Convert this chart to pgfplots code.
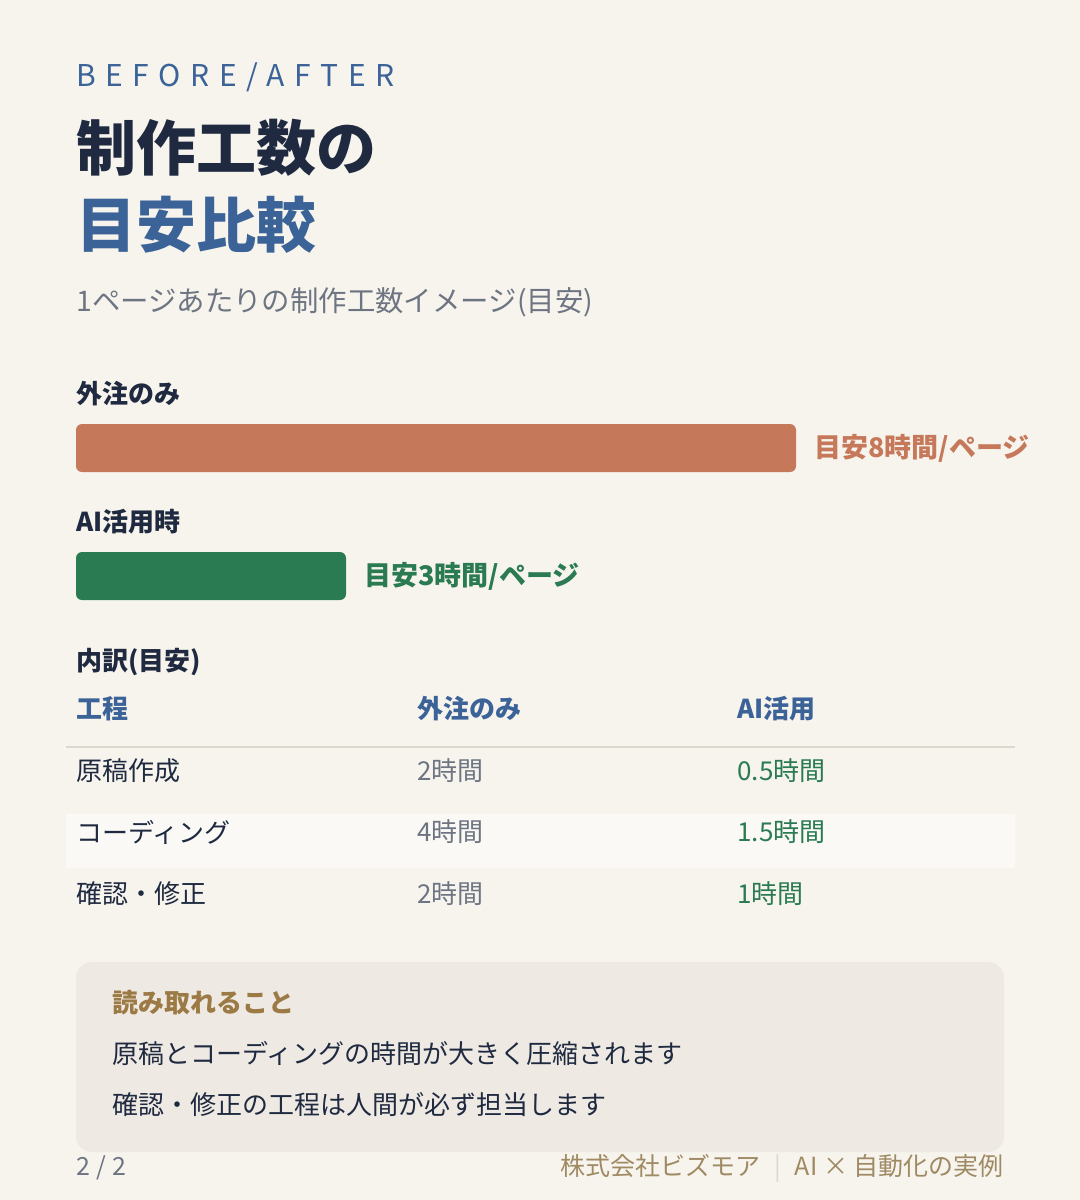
\documentclass[border=0pt]{standalone}
\usepackage{fontspec}
\usepackage{pgfplots}
\pgfplotsset{compat=1.18}
\setmainfont{Noto Sans CJK JP}
\definecolor{bg}{HTML}{F7F4EE}
\definecolor{navy}{HTML}{1F2A40}
\definecolor{blue}{HTML}{3B6398}
\definecolor{orangebar}{HTML}{C6785A}
\definecolor{greenbar}{HTML}{2A7A52}
\definecolor{graytxt}{HTML}{6E7582}
\definecolor{gold}{HTML}{9C7A45}
\definecolor{foot}{HTML}{A08A64}
\definecolor{boxfill}{HTML}{EEEAE3}
\definecolor{linecol}{HTML}{DDD8CE}
\definecolor{stripe}{HTML}{FAF9F5}
\begin{document}
\begin{tikzpicture}
\begin{scope}[x=0.5pt,y=-0.5pt]
\fill[bg] (0,0) rectangle (1080,1200);
% header
\node[anchor=west,inner sep=0pt,text=blue,font=\fontsize{15pt}{18pt}\selectfont\addfontfeature{LetterSpace=32}] at (76,77) {BEFORE/AFTER};
\node[anchor=west,inner sep=0pt,text=navy,font=\fontsize{30pt}{36pt}\selectfont\bfseries] at (76,148) {制作工数の};
\node[anchor=west,inner sep=0pt,text=blue,font=\fontsize{30pt}{36pt}\selectfont\bfseries] at (76,225) {目安比較};
\node[anchor=west,inner sep=0pt,text=graytxt,font=\fontsize{14.2pt}{17pt}\selectfont] at (76,302) {1ページあたりの制作工数イメージ(目安)};
% bar labels
\node[anchor=west,inner sep=0pt,text=navy,font=\fontsize{13pt}{16pt}\selectfont\bfseries] at (76,394) {外注のみ};
\node[anchor=west,inner sep=0pt,text=navy,font=\fontsize{13pt}{16pt}\selectfont\bfseries] at (76,522) {AI活用時};
% table
\node[anchor=west,inner sep=0pt,text=navy,font=\fontsize{13pt}{16pt}\selectfont\bfseries] at (76,662) {内訳(目安)};
\node[anchor=west,inner sep=0pt,text=blue,font=\fontsize{13pt}{16pt}\selectfont\bfseries] at (76,709) {工程};
\node[anchor=west,inner sep=0pt,text=blue,font=\fontsize{13pt}{16pt}\selectfont\bfseries] at (417,709) {外注のみ};
\node[anchor=west,inner sep=0pt,text=blue,font=\fontsize{13pt}{16pt}\selectfont\bfseries] at (737,709) {AI活用};
\draw[linecol,line width=1pt] (66,747) -- (1015,747);
\fill[stripe] (66,814) rectangle (1015,868);
\foreach \y/\a/\b/\c in {771/原稿作成/2時間/0.5時間, 832/コーディング/4時間/1.5時間, 894/確認・修正/2時間/1時間}{
  \node[anchor=west,inner sep=0pt,text=navy,font=\fontsize{13pt}{16pt}\selectfont] at (76,\y) {\a};
  \node[anchor=west,inner sep=0pt,text=graytxt,font=\fontsize{13pt}{16pt}\selectfont] at (417,\y) {\b};
  \node[anchor=west,inner sep=0pt,text=greenbar,font=\fontsize{13pt}{16pt}\selectfont] at (737,\y) {\c};
}
% info box
\fill[boxfill,rounded corners=8pt] (76,962) rectangle (1004,1152);
\node[anchor=west,inner sep=0pt,text=gold,font=\fontsize{13pt}{16pt}\selectfont\bfseries] at (112,1003) {読み取れること};
\node[anchor=west,inner sep=0pt,text=navy,font=\fontsize{13pt}{16pt}\selectfont] at (112,1053) {原稿とコーディングの時間が大きく圧縮されます};
\node[anchor=west,inner sep=0pt,text=navy,font=\fontsize{13pt}{16pt}\selectfont] at (112,1105) {確認・修正の工程は人間が必ず担当します};
% footer
\node[anchor=west,inner sep=0pt,text=graytxt,font=\fontsize{12.5pt}{14pt}\selectfont] at (76,1168) {2\hspace{3pt}/\hspace{3pt}2};
\node[anchor=east,inner sep=0pt,text=foot,font=\fontsize{12.5pt}{14pt}\selectfont] at (1004,1168) {株式会社ビズモア\hspace{7pt}\textcolor{linecol}{|}\hspace{7pt}AI × 自動化の実例};
\end{scope}
\begin{axis}[
  at={(38pt,-200pt)}, anchor=north west,
  scale only axis, width=360pt, height=110pt,
  xmin=0, xmax=8, ymin=400, ymax=620, y dir=reverse,
  axis lines=none, ticks=none, enlargelimits=false, clip=false,
  bar width=24pt,
  /pgf/number format/assume math mode=true,
  nodes near coords={目安\pgfmathprintnumber{\pgfplotspointmeta}時間/ページ},
  point meta=x,
]
\addplot[xbar, bar shift=0pt, fill=orangebar, draw=none, rounded corners=3pt,
  every node near coord/.style={anchor=west,inner sep=0pt,xshift=9pt,text=orangebar,font=\fontsize{13.5pt}{16pt}\selectfont\bfseries}]
  coordinates {(8,448)};
\addplot[xbar, bar shift=0pt, fill=greenbar, draw=none, rounded corners=3pt,
  every node near coord/.style={anchor=west,inner sep=0pt,xshift=9pt,text=greenbar,font=\fontsize{13.5pt}{16pt}\selectfont\bfseries}]
  coordinates {(3,576)};
\end{axis}
\end{tikzpicture}
\end{document}
